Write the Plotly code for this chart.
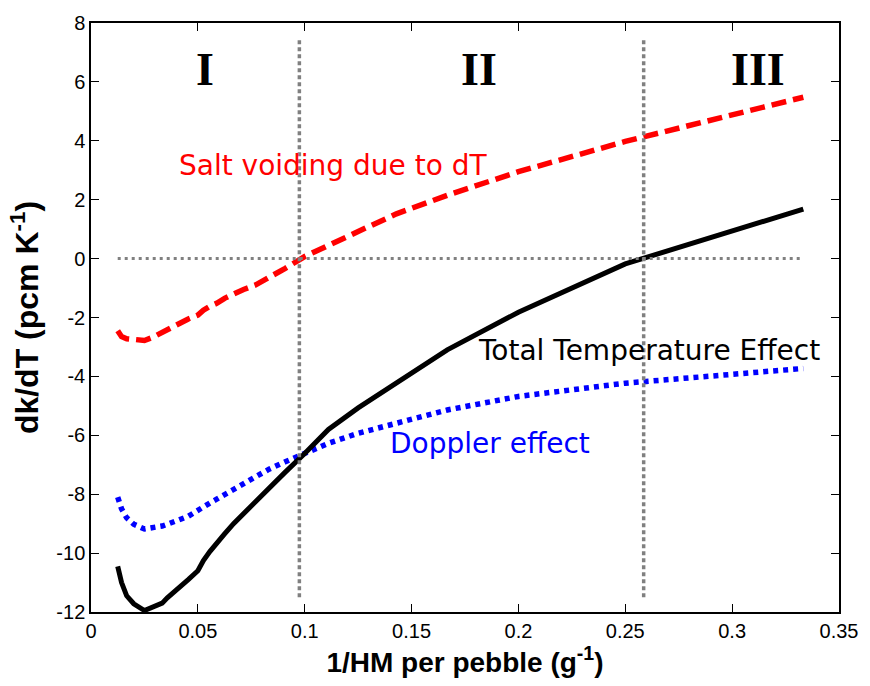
import plotly.graph_objects as go

# 1/HM per pebble (g^-1)
x_inv_hm = [0.0125, 0.0143, 0.0167, 0.02, 0.025, 0.0286, 0.0333, 0.0357, 0.0385,
            0.0417, 0.0455, 0.05, 0.0526, 0.0556, 0.0588, 0.0625, 0.0667, 0.0714,
            0.0769, 0.0833, 0.0909, 0.1, 0.1111, 0.125, 0.1429, 0.1667, 0.2, 0.25, 0.3333]

salt_voiding = [-2.45, -2.65, -2.72, -2.76, -2.78, -2.68, -2.5, -2.4, -2.32,
                -2.2, -2.05, -1.92, -1.75, -1.62, -1.52, -1.35, -1.2, -1.05,
                -0.9, -0.65, -0.33, 0.07, 0.47, 0.92, 1.52, 2.15, 2.95, 3.98, 5.48]

doppler = [-8.1, -8.5, -8.8, -9.02, -9.18, -9.15, -9.08, -9.02, -8.95,
           -8.88, -8.75, -8.55, -8.42, -8.3, -8.17, -8.02, -7.85, -7.62,
           -7.4, -7.15, -6.9, -6.6, -6.27, -5.93, -5.57, -5.14, -4.68, -4.23, -3.73]

total = [-10.45, -11.0, -11.45, -11.72, -11.95, -11.85, -11.7, -11.52, -11.35,
         -11.18, -10.9, -10.6, -10.25, -9.95, -9.7, -9.35, -9.0, -8.65,
         -8.25, -7.78, -7.25, -6.62, -5.8, -5.07, -4.22, -3.1, -1.82, -0.18, 1.68]

# region boundaries and zero line
boundary_x = [0.0975, 0.2586]
boundary_y = [-11.5, 7.5]
zero_line_x = [0.0125, 0.3333]
zero_line_y = [0, 0]

region_labels = ["I", "II", "III"]
region_x = [0.0534, 0.1817, 0.312]
region_y = 6.43

x_ticks = [0, 0.05, 0.1, 0.15, 0.2, 0.25, 0.3, 0.35]
x_ticktext = ["0", "0.05", "0.1", "0.15", "0.2", "0.25", "0.3", "0.35"]
y_ticks = [-12, -10, -8, -6, -4, -2, 0, 2, 4, 6, 8]
y_ticktext = ["-12", "-10", "-8", "-6", "-4", "-2", "0", "2", "4", "6", "8"]

fig = go.Figure()
fig.add_trace(go.Scatter(x=x_inv_hm, y=salt_voiding, mode="lines",
                         line=dict(color="#ff0000", width=5.5, dash="15px,7px")))
fig.add_trace(go.Scatter(x=x_inv_hm, y=doppler, mode="lines",
                         line=dict(color="#0000ff", width=5.5, dash="5px,5px")))
fig.add_trace(go.Scatter(x=x_inv_hm, y=total, mode="lines",
                         line=dict(color="#000000", width=5)))
for bx in boundary_x:
    fig.add_trace(go.Scatter(x=[bx, bx], y=boundary_y, mode="lines",
                             line=dict(color="#808080", width=3.5, dash="4px,3px")))
fig.add_trace(go.Scatter(x=zero_line_x, y=zero_line_y, mode="lines",
                         line=dict(color="#808080", width=3, dash="3px,4px")))

for lab, rx in zip(region_labels, region_x):
    fig.add_annotation(x=rx, y=region_y, text="<b>" + lab + "</b>", showarrow=False,
                       font=dict(family="Liberation Serif, Times New Roman, serif",
                                 size=46, color="black"),
                       xanchor="center", yanchor="middle")

ann_font = "DejaVu Sans, Verdana, sans-serif"
fig.add_annotation(x=0.1133, y=3.15, text="Salt voiding due to dT", showarrow=False,
                   font=dict(family=ann_font, size=28, color="#ff0000"),
                   xanchor="center", yanchor="middle")
fig.add_annotation(x=0.2613, y=-3.11, text="Total Temperature Effect", showarrow=False,
                   font=dict(family=ann_font, size=28, color="black"),
                   xanchor="center", yanchor="middle")
fig.add_annotation(x=0.1866, y=-6.27, text="Doppler effect", showarrow=False,
                   font=dict(family=ann_font, size=28, color="#0000ff"),
                   xanchor="center", yanchor="middle")

axis_common = dict(showline=True, linecolor="black", linewidth=1.5, mirror="ticks",
                   ticks="inside", ticklen=8, tickcolor="black", showgrid=False,
                   zeroline=False,
                   tickfont=dict(family="Liberation Sans, Arial, sans-serif", size=20,
                                 color="black"))

fig.update_layout(
    width=870, height=686,
    margin=dict(l=91, r=25, t=18, b=74),
    paper_bgcolor="white", plot_bgcolor="white",
    showlegend=False,
    xaxis=dict(range=[0, 0.35], tickvals=x_ticks, ticktext=x_ticktext,
               title=dict(text="<b>1/HM per pebble (g<sup>-1</sup>)</b>", standoff=10,
                          font=dict(family="Liberation Sans, Arial, sans-serif",
                                    size=28, color="black")),
               **axis_common),
    yaxis=dict(range=[-12, 8], tickvals=y_ticks, ticktext=y_ticktext,
               title=dict(text="<b>dk/dT (pcm K<sup>-1</sup>)</b>", standoff=8,
                          font=dict(family="Liberation Sans, Arial, sans-serif",
                                    size=32, color="black")),
               **axis_common),
)

fig.write_html("out.html")
